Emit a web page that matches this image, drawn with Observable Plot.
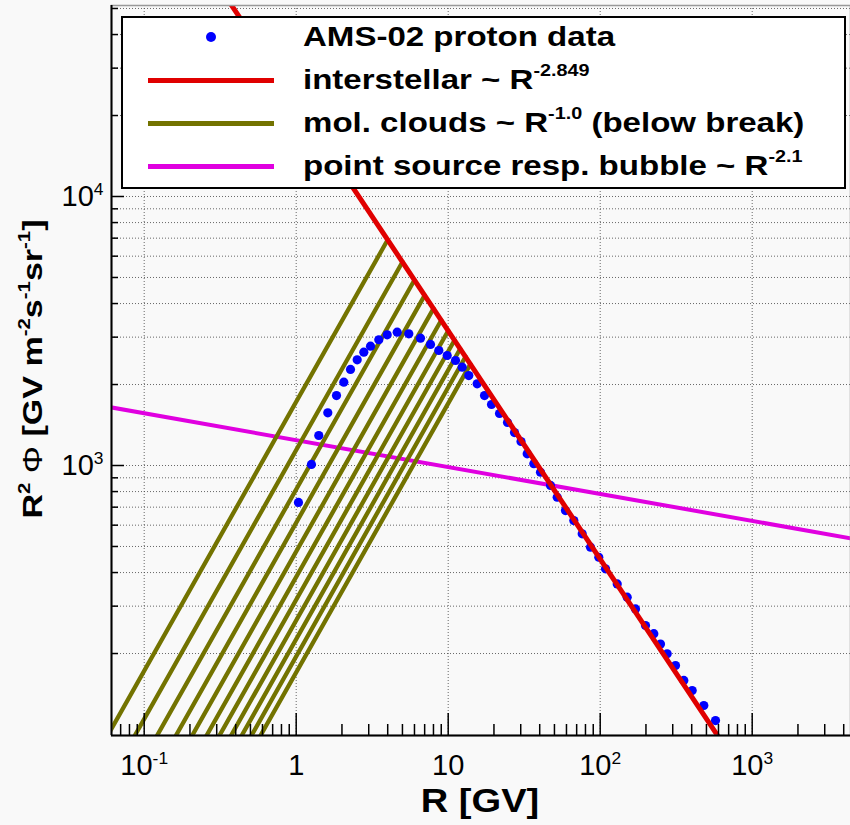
<!DOCTYPE html>
<html><head><meta charset="utf-8">
<script src="https://cdn.jsdelivr.net/npm/d3@7"></script>
<script src="https://cdn.jsdelivr.net/npm/@observablehq/plot@0.6"></script>
<style>
body{margin:0;background:#f9f9f9;font-family:"Liberation Sans",Arial,sans-serif;}
#wrap{position:relative;width:850px;height:825px;overflow:hidden;}
#wrap svg{position:absolute;left:0;top:0;}
.sup{font-size:0.6em;position:relative;top:-0.75em;line-height:0;}
#legend{position:absolute;left:121px;top:16px;width:725px;height:173px;border:2px solid #000;background:#fff;box-sizing:border-box;}
.lt{position:absolute;left:180px;font-weight:bold;font-size:28px;line-height:30px;white-space:nowrap;transform-origin:left center;transform:scaleX(1.18);}
.sw{position:absolute;left:25px;width:126px;height:5px;}
.dotsw{position:absolute;width:10px;height:10px;border-radius:50%;background:#0000ff;}
#ytitle{position:absolute;left:33px;top:369px;font-weight:bold;font-size:27px;white-space:nowrap;transform:translate(-50%,-50%) rotate(-90deg) scaleX(1.26);}
#xtitle{position:absolute;left:480px;top:800px;font-weight:bold;font-size:34px;white-space:nowrap;transform:translate(-50%,-50%) scaleX(1.12);}
</style></head><body><div id="wrap"></div>
<script>
// ---- data ----
const amsR = [1.035, 1.26, 1.408, 1.614, 1.841, 2.057, 2.276, 2.519, 2.785, 3.083, 3.495, 3.969, 4.618, 5.506, 6.573, 7.647, 8.676, 9.849, 11.17, 12.36, 13.66, 15.51, 17.33, 19.27, 21.76, 24.55, 27.3, 30.13, 33.1, 36.58, 40.48, 47.1, 52.13, 59.1, 67.03, 76.13, 86.36, 97.9, 108.4, 129.4, 150.5, 170.7, 198.6, 225.3, 249.3, 275.9, 313, 354.8, 402.9, 480.4, 573.6];
const amsY = [729, 1009, 1293, 1570, 1820, 2040, 2275, 2471, 2637, 2776, 2934, 3061, 3130, 3087, 2973, 2818, 2676, 2564, 2457, 2320, 2160, 2012, 1820, 1686, 1561, 1445, 1326, 1228, 1105, 1015, 944, 843, 762, 680, 624, 557, 497, 456, 413, 363, 324, 293, 254, 237, 217, 199.5, 180.5, 158.8, 145.7, 128.2, 112.7];

// interstellar ~ R^-2.849 (straight in log-log): two end points
const interR = [0.3, 1000];
const interY = [62200, 63.5];

// point source resp. bubble ~ R^-2.1
const bubbleR = [0.05, 5000];
const bubbleY = [1676, 530];

// mol. clouds ~ R^-1.0: break (top) points on the interstellar line and low end points
const molTopR = [4, 5, 6, 7, 8, 9, 10, 11, 12, 13, 14];
const molTopY = [6903, 5709, 4891, 4290, 3831, 3467, 3170, 2923, 2715, 2537, 2382];
const molLowR = [0.05216, 0.0788, 0.1104, 0.1469, 0.1879, 0.2336, 0.2840, 0.3387, 0.3978, 0.4612, 0.5289];
const molLowY = [90, 90, 90, 90, 90, 90, 90, 90, 90, 90, 90];

// axes
const xDomain = [0.06094, 4433];
const yDomain = [99.15, 51290];
const xMajor = [0.1, 1, 10, 100, 1000];
const xLabels = ["10^{-1}", "1", "10", "10^{2}", "10^{3}"];
const xMinor = [0.07, 0.08, 0.09, 0.2, 0.3, 0.4, 0.5, 0.6, 0.7, 0.8, 0.9, 2, 3, 4, 5, 6, 7, 8, 9, 20, 30, 40, 50, 60, 70, 80, 90, 200, 300, 400, 500, 600, 700, 800, 900, 2000, 3000, 4000];
const yMajor = [1000, 10000];
const yLabels = ["10^{3}", "10^{4}"];
const yMinor = [200, 300, 400, 500, 600, 700, 800, 900, 2000, 3000, 4000, 5000, 6000, 7000, 8000, 9000, 20000, 30000, 40000, 50000];

const legendLabels = [
  "AMS-02 proton data",
  "interstellar ~ R<span class='sup'>-2.849</span>",
  "mol. clouds ~ R<span class='sup'>-1.0</span> (below break)",
  "point source resp. bubble ~ R<span class='sup'>-2.1</span>"
];
const legendColors = ["#0000ff", "#e00000", "#737300", "#e000e0"];
const legendKinds = ["dot", "line", "line", "line"];

// ---- build tables ----
const ams = amsR.map((R, i) => ({R, Y: amsY[i]}));
const inter = interR.map((R, i) => ({R, Y: interY[i]}));
const bubble = bubbleR.map((R, i) => ({R, Y: bubbleY[i]}));
const mol = molTopR.flatMap((R, i) => [
  {id: i, R: molLowR[i], Y: molLowY[i]},
  {id: i, R, Y: molTopY[i]}
]);
const xLabelMap = new Map(xMajor.map((d, i) => [d, xLabels[i]]));
const yLabelMap = new Map(yMajor.map((d, i) => [d, yLabels[i]]));

const W = 850, H = 825, mL = 111, mR = 0, mT = 5, mB = 90;
const plotW = W - mL - mR, plotH = H - mT - mB;
const gridStyle = {stroke: "#444", strokeDasharray: "1,2", strokeWidth: 1, strokeOpacity: 0.8};

const chart = Plot.plot({
  width: W, height: H,
  marginLeft: mL, marginRight: mR, marginTop: mT, marginBottom: mB,
  style: {background: "transparent", fontFamily: "'Liberation Sans', Arial, sans-serif", fontSize: "29px", color: "#000"},
  x: {type: "log", domain: xDomain, label: null},
  y: {type: "log", domain: yDomain, label: null},
  marks: [
    Plot.ruleX(xMajor, {x: d => d, ...gridStyle}),
    Plot.ruleY(yMinor.concat(yMajor), {y: d => d, ...gridStyle}),
    Plot.line(bubble, {x: "R", y: "Y", stroke: "#e000e0", strokeWidth: 4, clip: true}),
    Plot.line(mol, {x: "R", y: "Y", z: "id", stroke: "#737300", strokeWidth: 4.3, clip: true}),
    Plot.dot(ams, {x: "R", y: "Y", r: 4.6, fill: "#0000ff", stroke: "none", clip: true}),
    Plot.line(inter, {x: "R", y: "Y", stroke: "#e00000", strokeWidth: 5, clip: true}),
    Plot.frame({stroke: "#999", strokeWidth: 1.5}),
    Plot.tickX(xMinor, {x: d => d, insetTop: plotH - 11, stroke: "#000", strokeWidth: 1.5}),
    Plot.tickX(xMajor, {x: d => d, insetTop: plotH - 22, stroke: "#000", strokeWidth: 1.5}),
    Plot.tickY(yMinor, {y: d => d, insetRight: plotW - 7, stroke: "#000", strokeWidth: 1.5}),
    Plot.tickY(yMajor, {y: d => d, insetRight: plotW - 13, stroke: "#000", strokeWidth: 1.5}),
    Plot.ruleX([xDomain[0]], {stroke: "#000", strokeWidth: 2}),
    Plot.ruleY([yDomain[0]], {stroke: "#000", strokeWidth: 2}),
    Plot.axisX(xMajor, {tickFormat: d => xLabelMap.get(d), tickSize: 0, tickPadding: 19, label: null, fontSize: 29}),
    Plot.axisY(yMajor, {tickFormat: d => yLabelMap.get(d), tickSize: 0, tickPadding: 8, label: null, fontSize: 29})
  ]
});

// superscripts in tick labels
const svgNS = "http://www.w3.org/2000/svg";
d3.select(chart).selectAll("text").each(function () {
  const t = this.textContent;
  const m = t.match(/^(.*)\^\{(.*)\}$/);
  if (m) {
    this.textContent = m[1];
    const ts = document.createElementNS(svgNS, "tspan");
    ts.setAttribute("font-size", "60%");
    ts.setAttribute("dy", "-0.62em");
    ts.textContent = m[2];
    this.appendChild(ts);
  }
});

const wrap = document.getElementById("wrap");
wrap.appendChild(chart);

// legend (inside the plot, top)
const legend = document.createElement("div");
legend.id = "legend";
const rowCenters = [19, 62, 105, 148];
legendLabels.forEach((lab, i) => {
  const c = rowCenters[i];
  if (legendKinds[i] === "dot") {
    const d = document.createElement("div");
    d.className = "dotsw";
    d.style.left = (88 - 5) + "px";
    d.style.top = (c - 5) + "px";
    d.style.background = legendColors[i];
    legend.appendChild(d);
  } else {
    const s = document.createElement("div");
    s.className = "sw";
    s.style.top = (c - 2.5) + "px";
    s.style.background = legendColors[i];
    legend.appendChild(s);
  }
  const t = document.createElement("div");
  t.className = "lt";
  t.style.top = (c - 15) + "px";
  t.innerHTML = lab;
  legend.appendChild(t);
});
wrap.appendChild(legend);

const yt = document.createElement("div");
yt.id = "ytitle";
yt.innerHTML = "R<span class='sup'>2</span> <span style='font-weight:normal'>Φ</span> [GV m<span class='sup'>-2</span>s<span class='sup'>-1</span>sr<span class='sup'>-1</span>]";
wrap.appendChild(yt);

const xt = document.createElement("div");
xt.id = "xtitle";
xt.textContent = "R [GV]";
wrap.appendChild(xt);
</script>
</body></html>
